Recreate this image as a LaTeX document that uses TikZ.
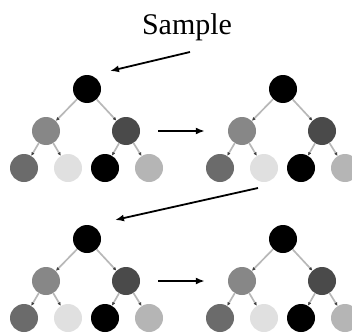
\documentclass[tikz,border=0pt]{standalone}
\usepackage{fontspec}
\setmainfont{Liberation Serif}
\usetikzlibrary{arrows.meta}
\begin{document}
\begin{tikzpicture}[x=1pt,y=-1pt,
  ball/.style={circle,inner sep=0pt,minimum size=28pt,fill=#1},
  link/.style={draw=black!28,line width=1.7pt,
    -{Latex[length=3.5pt,width=3.5pt,color=black!75]}},
  flow/.style={draw=black,line width=1.8pt,-{Latex[length=9pt,width=7pt]}},
]
\useasboundingbox (0,0) rectangle (352,334);
\clip (0,0) rectangle (352,334);

% four copies of the same binary tree
\foreach \t/\dx/\dy in {a/0/0,b/196/0,c/0/150,d/196/150}{
  \begin{scope}[shift={(\dx,\dy)}]
    \node[ball=black]    (\t0) at (87,89)  {};
    \node[ball=black!47] (\t1) at (46,131) {};
    \node[ball=black!71] (\t2) at (126,131) {};
    \node[ball=black!58] (\t3) at (24,168) {};
    \node[ball=black!12] (\t4) at (68,168) {};
    \node[ball=black]    (\t5) at (105,168) {};
    \node[ball=black!29] (\t6) at (149,168) {};
    \draw[link] (\t0) -- (\t1);
    \draw[link] (\t0) -- (\t2);
    \draw[link] (\t1) -- (\t3);
    \draw[link] (\t1) -- (\t4);
    \draw[link] (\t2) -- (\t5);
    \draw[link] (\t2) -- (\t6);
  \end{scope}
}

% label and process arrows
\node[anchor=base,font=\fontsize{30}{36}\selectfont] (sample) at (187,35) {Sample};
\coordinate (sfrom) at (190,52);
\coordinate (sto) at (110,71);
\draw[flow] (sfrom) -- (sto);

\draw[flow,shorten <=18pt,shorten >=23pt] (a2.east) -- (b1.west);
\draw[flow,shorten <=18pt,shorten >=23pt] (c2.east) -- (d1.west);

\coordinate (bfrom) at (258,188);
\coordinate (bto) at (115,220);
\draw[flow] (bfrom) -- (bto);
\end{tikzpicture}
\end{document}
